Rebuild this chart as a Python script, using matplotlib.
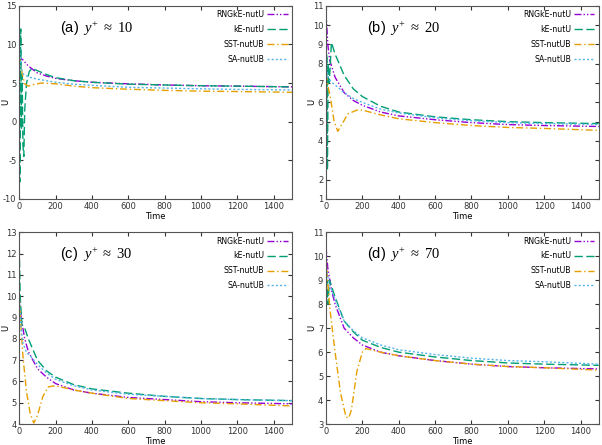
import numpy as np
import matplotlib.pyplot as plt

plt.rcParams['mathtext.fontset'] = 'custom'
plt.rcParams['mathtext.rm'] = 'Liberation Serif'
plt.rcParams['mathtext.it'] = 'Liberation Serif:italic'
plt.rcParams['mathtext.sf'] = 'Liberation Sans'
plt.rcParams['axes.unicode_minus'] = False

labels = ['RNGkE-nutU', 'kE-nutU', 'SST-nutUB', 'SA-nutUB']
colors = ['#9400d3', '#009e73', '#e69f00', '#56b4e9']
styles = [(0, (5, 1.5, 1, 1.5, 1, 1.5)), (0, (6, 2.5)), (0, (5, 2, 1, 2)), (0, (1.5, 1.5))]

# panel (a) y+ ~ 10
a_rng_t = [0, 5, 20, 50, 100, 150, 200, 300, 400, 600, 800, 1000, 1200, 1500]
a_rng_u = [8.6, 8.2, 8.0, 7.2, 6.3, 5.9, 5.6, 5.3, 5.1, 4.9, 4.75, 4.65, 4.6, 4.5]
a_ke_t = [0, 3, 8, 12, 16, 20, 25, 30, 40, 55, 70, 100, 150, 200, 300, 400, 600, 800, 1000, 1200, 1500]
a_ke_u = [12.5, -7.8, 12.0, -1.0, 6.0, -3.0, -4.5, 1.5, 5.0, 6.5, 6.9, 6.6, 6.1, 5.7, 5.3, 5.1, 4.85, 4.75, 4.65, 4.6, 4.5]
a_sst_t = [0, 10, 20, 30, 50, 80, 120, 200, 300, 400, 600, 800, 1000, 1200, 1500]
a_sst_u = [8.5, 7.0, 5.8, 4.9, 4.6, 4.8, 5.0, 4.9, 4.6, 4.4, 4.2, 4.05, 3.95, 3.9, 3.8]
a_sa_t = [0, 10, 20, 50, 100, 200, 300, 400, 600, 800, 1000, 1200, 1500]
a_sa_u = [10.0, 7.0, 6.2, 5.8, 5.5, 5.1, 4.85, 4.7, 4.45, 4.35, 4.25, 4.18, 4.1]

# panel (b) y+ ~ 20
b_rng_t = [0, 10, 20, 50, 100, 150, 200, 300, 400, 600, 800, 1000, 1200, 1500]
b_rng_u = [10.7, 9.0, 8.2, 7.3, 6.5, 6.1, 5.85, 5.5, 5.3, 5.1, 4.95, 4.85, 4.8, 4.75]
b_ke_t = [0, 4, 8, 12, 18, 30, 50, 100, 150, 200, 300, 400, 600, 800, 1000, 1200, 1500]
b_ke_u = [1.2, 8.5, 2.5, 8.0, 7.0, 9.1, 8.5, 7.4, 6.7, 6.3, 5.8, 5.5, 5.25, 5.1, 5.0, 4.95, 4.9]
b_sst_t = [0, 10, 25, 45, 65, 90, 120, 170, 200, 300, 400, 600, 800, 1000, 1200, 1500]
b_sst_u = [7.5, 6.9, 6.2, 5.0, 4.5, 4.9, 5.4, 5.6, 5.6, 5.35, 5.15, 4.95, 4.8, 4.7, 4.65, 4.55]
b_sa_t = [0, 10, 25, 50, 100, 150, 200, 300, 400, 600, 800, 1000, 1200, 1500]
b_sa_u = [8.0, 7.3, 7.1, 6.9, 6.5, 6.2, 6.0, 5.65, 5.45, 5.2, 5.05, 4.95, 4.9, 4.85]

# panel (c) y+ ~ 30
c_rng_t = [0, 10, 30, 50, 100, 150, 200, 300, 400, 600, 800, 1000, 1200, 1500]
c_rng_u = [10.0, 9.0, 8.0, 7.4, 6.6, 6.2, 5.9, 5.6, 5.45, 5.25, 5.15, 5.05, 5.0, 4.95]
c_ke_t = [0, 5, 15, 30, 50, 100, 150, 200, 300, 400, 600, 800, 1000, 1200, 1500]
c_ke_u = [12.3, 10.0, 8.6, 8.5, 8.0, 7.0, 6.5, 6.2, 5.85, 5.65, 5.45, 5.3, 5.2, 5.15, 5.1]
c_sst_t = [0, 10, 20, 40, 60, 80, 100, 130, 160, 200, 300, 400, 600, 800, 1000, 1200, 1500]
c_sst_u = [10.0, 8.5, 7.2, 5.5, 4.5, 4.05, 4.4, 5.3, 5.75, 5.8, 5.6, 5.45, 5.2, 5.1, 5.0, 4.95, 4.85]
c_sa_t = [0, 10, 20, 40, 60, 100, 150, 200, 300, 400, 600, 800, 1000, 1200, 1500]
c_sa_u = [10.0, 8.5, 7.8, 7.35, 7.2, 6.8, 6.4, 6.1, 5.8, 5.6, 5.4, 5.3, 5.2, 5.15, 5.1]

# panel (d) y+ ~ 70
d_rng_t = [0, 10, 30, 50, 100, 150, 200, 300, 400, 600, 800, 1000, 1200, 1500]
d_rng_u = [10.4, 9.5, 8.6, 8.0, 7.0, 6.6, 6.3, 6.0, 5.85, 5.65, 5.5, 5.4, 5.35, 5.3]
d_ke_t = [0, 5, 10, 20, 50, 100, 150, 200, 300, 400, 600, 800, 1000, 1200, 1500]
d_ke_u = [7.9, 9.0, 8.0, 9.0, 8.3, 7.3, 6.85, 6.5, 6.2, 6.0, 5.8, 5.65, 5.55, 5.5, 5.45]
d_sst_t = [0, 20, 50, 80, 110, 125, 140, 170, 200, 220, 300, 400, 600, 800, 1000, 1200, 1500]
d_sst_u = [10.0, 7.9, 6.0, 4.3, 3.3, 3.25, 3.6, 5.2, 6.0, 6.15, 6.0, 5.85, 5.65, 5.5, 5.4, 5.35, 5.25]
d_sa_t = [0, 20, 50, 100, 150, 200, 300, 400, 600, 800, 1000, 1200, 1500]
d_sa_u = [9.5, 8.8, 8.2, 7.3, 6.9, 6.6, 6.3, 6.1, 5.9, 5.75, 5.65, 5.6, 5.5]

panels = [
    ('$\\mathsf{(a)}\\ \\ y^{+}\\ \\approx\\ 10$', (-10, 15), 5,
     [(a_rng_t, a_rng_u), (a_ke_t, a_ke_u), (a_sst_t, a_sst_u), (a_sa_t, a_sa_u)]),
    ('$\\mathsf{(b)}\\ \\ y^{+}\\ \\approx\\ 20$', (1, 11), 1,
     [(b_rng_t, b_rng_u), (b_ke_t, b_ke_u), (b_sst_t, b_sst_u), (b_sa_t, b_sa_u)]),
    ('$\\mathsf{(c)}\\ \\ y^{+}\\ \\approx\\ 30$', (4, 13), 1,
     [(c_rng_t, c_rng_u), (c_ke_t, c_ke_u), (c_sst_t, c_sst_u), (c_sa_t, c_sa_u)]),
    ('$\\mathsf{(d)}\\ \\ y^{+}\\ \\approx\\ 70$', (3, 11), 1,
     [(d_rng_t, d_rng_u), (d_ke_t, d_ke_u), (d_sst_t, d_sst_u), (d_sa_t, d_sa_u)]),
]

# axes boxes in figure fractions [left, bottom, width, height]
boxes = [[0.032, 0.553, 0.453, 0.434], [0.5415, 0.553, 0.453, 0.434],
         [0.032, 0.047, 0.453, 0.431], [0.5415, 0.047, 0.453, 0.431]]

fig = plt.figure(figsize=(6.02, 4.45), dpi=100)
for box, (title, ylim, ystep, series) in zip(boxes, panels):
    ax = fig.add_axes(box)
    for (t, u), lab, c, ls in zip(series, labels, colors, styles):
        ax.plot(t, u, color=c, linestyle=ls, linewidth=1.0, label=lab)
    ax.set_xlim(0, 1500)
    ax.set_ylim(*ylim)
    ax.set_xticks(np.arange(0, 1401, 200))
    ax.set_yticks(np.arange(ylim[0], ylim[1] + 0.1, ystep))
    ax.tick_params(direction='in', top=True, right=True, labelsize=6,
                   length=3, colors='#333333', pad=2)
    for s in ax.spines.values():
        s.set_color('#555555')
        s.set_linewidth(0.8)
    ax.set_xlabel('Time', fontsize=6, labelpad=1)
    ax.set_ylabel('U', fontsize=6)
    ax.yaxis.set_label_coords(-0.034, 0.5)
    ax.text(0.15, 0.88, title, transform=ax.transAxes, fontsize=10.5, va='center')
    ax.legend(loc='upper right', frameon=False, fontsize=5.6, markerfirst=False,
              handlelength=2.6, handletextpad=0.4, labelspacing=0.75,
              borderaxespad=0.15)

plt.savefig('out.png', dpi=100)
